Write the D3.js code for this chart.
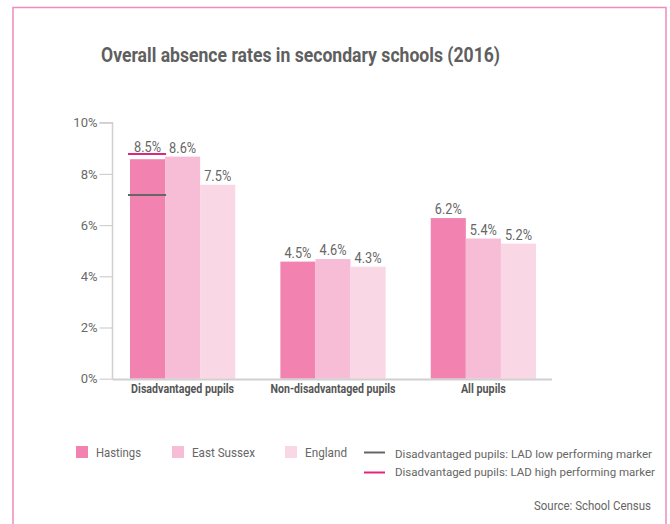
<!DOCTYPE html>
<html><head><meta charset="utf-8">
<script src="https://cdn.jsdelivr.net/npm/d3@7"></script>
<style>
body{margin:0;background:#fff;}
svg{display:block;}
text{font-family:"Roboto","Liberation Sans",sans-serif;}
</style></head>
<body>
<script>
const categories = ["Disadvantaged pupils", "Non-disadvantaged pupils", "All pupils"];
const seriesNames = ["Hastings", "East Sussex", "England"];
const hastings = [8.5, 4.5, 6.2];
const eastSussex = [8.6, 4.6, 5.4];
const england = [7.5, 4.3, 5.2];
const yTicks = [0, 2, 4, 6, 8, 10];
const lowMarker = 7.1;   // Disadvantaged pupils: LAD low performing marker
const highMarker = 8.7;  // Disadvantaged pupils: LAD high performing marker
const markerLabels = ["Disadvantaged pupils: LAD low performing marker", "Disadvantaged pupils: LAD high performing marker"];
const title = "Overall absence rates in secondary schools (2016)";
const source = "Source: School Census";

const colors = ["#f283b1", "#f7bcd6", "#fad7e5"];
const series = [hastings, eastSussex, england];

const W = 670, H = 524;
const svg = d3.select("body").append("svg").attr("width", W).attr("height", H);

function fit(sel, w) { return sel.attr("textLength", w).attr("lengthAdjust", "spacingAndGlyphs"); }

// frame
svg.append("path").attr("d", `M13,${H} L13,7.5 L666,7.5 L666,${H}`)
  .attr("fill", "none").attr("stroke", "#f08cbb").attr("stroke-width", 1.5);

fit(svg.append("text").attr("x", 101).attr("y", 62)
  .attr("font-size", 20).attr("font-weight", "bold").attr("fill", "#5f5f5f").text(title), 399);

const y = d3.scaleLinear().domain([0, 10]).range([378.7, 122.7]);
const yBar = d3.scaleLinear().domain([0, 10]).range([376.8, 120.8]);
const x0 = d3.scaleBand().domain(categories).range([113, 553]).paddingInner(0.3).paddingOuter(0.113);
const x1 = d3.scaleBand().domain(seriesNames).range([0, x0.bandwidth()]);

// y axis
const yAxis = svg.append("g").attr("transform", "translate(112.5,0)")
  .call(d3.axisLeft(y).tickValues(yTicks).tickFormat(d => d + "%").tickSize(13).tickPadding(2));
yAxis.select(".domain").attr("stroke", "#d0d0d0").attr("stroke-width", 1.5).attr("d", "M-13,122.7H0V379");
yAxis.selectAll(".tick line").attr("stroke", "#d0d0d0").attr("stroke-width", 1.2);
yAxis.selectAll(".tick text").attr("fill", "#6a6a6a").attr("font-size", 13).attr("font-family", null);

// bars
const rows = (c, ci) => seriesNames.map((s, si) => ({s, si, ci, v: series[si][ci]}));
const groups = svg.append("g").selectAll("g").data(categories).join("g")
  .attr("transform", d => `translate(${x0(d)},0)`);
groups.selectAll("rect").data(rows).join("rect")
  .attr("x", d => x1(d.s)).attr("width", x1.bandwidth())
  .attr("y", d => yBar(d.v)).attr("height", d => y(0) - yBar(d.v))
  .attr("fill", d => colors[d.si]);
groups.selectAll("text.val").data(rows).join("text").attr("class", "val")
  .attr("x", d => x1(d.s) + x1.bandwidth() / 2)
  .attr("y", d => (d.ci === 0 && d.si === 0) ? Math.min(yBar(d.v) - 4, yBar(highMarker) - 2) : yBar(d.v) - 4)
  .attr("text-anchor", "middle").attr("font-size", 14).attr("fill", "#666")
  .text(d => d.v.toFixed(1) + "%")
  .each(function () { fit(d3.select(this), 27); });

// baseline
svg.append("line").attr("x1", 112.5).attr("x2", 552).attr("y1", 379.5).attr("y2", 379.5)
  .attr("stroke", "#d0d0d0").attr("stroke-width", 2);

// category labels
const catW = [103, 125, 45];
svg.append("g").selectAll("text").data(categories).join("text")
  .attr("x", d => x0(d) + x0.bandwidth() / 2).attr("y", 393)
  .attr("text-anchor", "middle").attr("font-size", 12).attr("font-weight", "bold").attr("fill", "#555")
  .text(d => d)
  .each(function (d, i) { fit(d3.select(this), catW[i]); });

// markers on Disadvantaged Hastings bar
const mx = x0(categories[0]) + x1(seriesNames[0]);
svg.append("line").attr("x1", mx - 2).attr("x2", mx + x1.bandwidth() + 1)
  .attr("y1", yBar(lowMarker)).attr("y2", yBar(lowMarker)).attr("stroke", "#666").attr("stroke-width", 2);
svg.append("line").attr("x1", mx - 2).attr("x2", mx + x1.bandwidth() + 1)
  .attr("y1", yBar(highMarker)).attr("y2", yBar(highMarker)).attr("stroke", "#e0257a").attr("stroke-width", 2);

// legend
const legX = [76, 172, 285];
const legW = [45, 63, 42];
seriesNames.forEach((s, i) => {
  svg.append("rect").attr("x", legX[i]).attr("y", 446).attr("width", 12).attr("height", 12).attr("fill", colors[i]);
  fit(svg.append("text").attr("x", legX[i] + 20).attr("y", 457).attr("font-size", 13.5).attr("fill", "#666").text(s), legW[i]);
});
svg.append("line").attr("x1", 364).attr("x2", 385).attr("y1", 452.5).attr("y2", 452.5).attr("stroke", "#666").attr("stroke-width", 2);
fit(svg.append("text").attr("x", 395).attr("y", 457.5).attr("font-size", 11.8).attr("fill", "#666").text(markerLabels[0]), 257);
svg.append("line").attr("x1", 364).attr("x2", 385).attr("y1", 472.5).attr("y2", 472.5).attr("stroke", "#e0257a").attr("stroke-width", 2);
fit(svg.append("text").attr("x", 395).attr("y", 475.5).attr("font-size", 11.8).attr("fill", "#666").text(markerLabels[1]), 260);

fit(svg.append("text").attr("x", 534).attr("y", 510).attr("font-size", 13).attr("fill", "#666").text(source), 117);
</script>
</body></html>
